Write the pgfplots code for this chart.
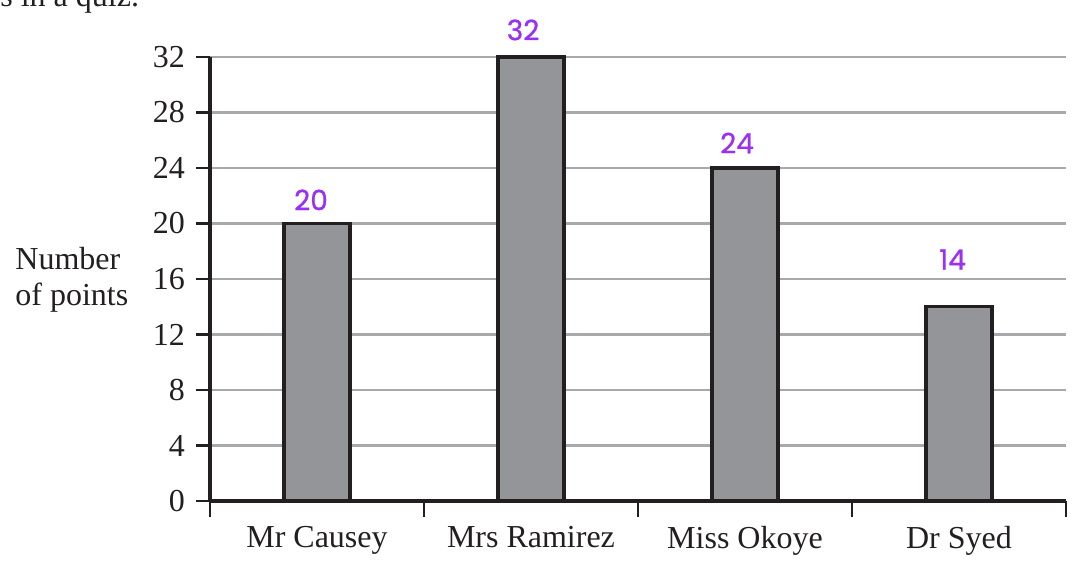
\documentclass[border=0pt]{standalone}
\usepackage{fontspec}
\setmainfont{Liberation Serif}
\newfontfamily\hand[FakeBold=0.8]{Poppins}
\usepackage{pgfplots}
\pgfplotsset{compat=1.18}
\definecolor{barfill}{HTML}{939598}
\definecolor{edge}{HTML}{231F20}
\definecolor{gridc}{HTML}{A7A9AC}
\definecolor{pen}{HTML}{9B30F5}
\begin{document}
\fontsize{16}{18}\selectfont
\begin{tikzpicture}
\useasboundingbox (-105pt,-31pt) rectangle (431.5pt,250.5pt);
\begin{axis}[
  at={(0,0)}, anchor=south west, scale only axis,
  width=428pt, height=222pt,
  xmin=-0.5, xmax=3.5, ymin=0, ymax=32,
  clip=false,
  axis x line*=bottom, axis y line*=left,
  axis line style={-, line width=1.6pt, color=edge},
  /pgf/number format/assume math mode=true,
  ytick={0,4,...,32},
  ymajorgrids, grid style={line width=1.3pt, color=gridc},
  xtick={0,1,2,3},
  xticklabels={Mr Causey, Mrs Ramirez, Miss Okoye, Dr Syed},
  minor xtick={-0.5,0.5,1.5,2.5,3.5},
  major x tick style={draw=none},
  minor x tick style={draw=edge, line width=1.2pt},
  tick align=outside,
  major tick length=7pt,
  minor tick length=8pt,
  major y tick style={draw=edge, line width=1.2pt},
  tick label style={font=\fontsize{16}{18}\selectfont, text=edge},
]
\addplot[ybar, bar width=33pt, fill=barfill, draw=edge, line width=1.6pt]
  coordinates {(0,20) (1,32) (2,24) (3,14)};
\node[text=pen, font=\hand\fontsize{14}{15}\selectfont] at (axis cs:-0.028,21.7) {20};
\node[text=pen, font=\hand\fontsize{14}{15}\selectfont] at (axis cs:0.963,33.95) {32};
\node[text=pen, font=\hand\fontsize{14}{15}\selectfont] at (axis cs:1.963,25.8) {24};
\node[text=pen, font=\hand\fontsize{14}{15}\selectfont] at (axis cs:2.97,17.4) {14};
\end{axis}
\node[anchor=base west, inner sep=0pt, text=edge] at (-105pt,247pt) {s in a quiz.};
\node[anchor=west, align=left, inner sep=0pt, text=edge] at (-97.5pt,110.5pt) {Number\\of points};
\end{tikzpicture}
\end{document}
